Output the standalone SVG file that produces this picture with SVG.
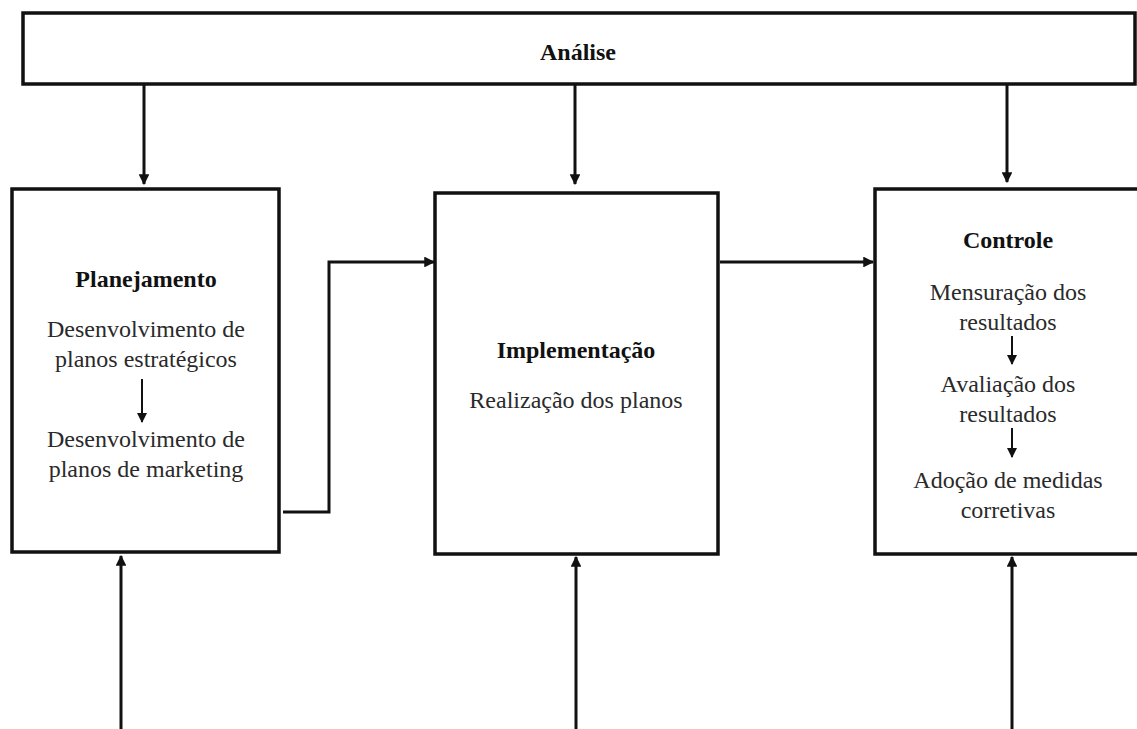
<svg xmlns="http://www.w3.org/2000/svg" width="1137" height="729" viewBox="0 0 1137 729">
  <style>
    .box { fill: #fff; stroke: #111; stroke-width: 3.5; }
    .wire { fill: none; stroke: #111; stroke-width: 3; }
    .thin { fill: none; stroke: #111; stroke-width: 2; }
    .head { fill: #111; }
    .t { font-family: "Liberation Serif", "Times New Roman", serif; font-size: 24px; fill: #2a2a2a; text-anchor: middle; }
    .b { font-family: "Liberation Serif", "Times New Roman", serif; font-size: 24px; font-weight: bold; fill: #111; text-anchor: middle; }
  </style>
  <defs>
    <marker id="arr" viewBox="0 0 10 10" refX="9" refY="5" markerWidth="3.6" markerHeight="3.6" orient="auto" markerUnits="strokeWidth">
      <path d="M0,0 L10,5 L0,10 Z" class="head"/>
    </marker>
    <marker id="arrSmall" viewBox="0 0 10 10" refX="9" refY="5" markerWidth="5" markerHeight="5" orient="auto" markerUnits="strokeWidth">
      <path d="M0,0 L10,5 L0,10 Z" class="head"/>
    </marker>
  </defs>

  <rect width="1137" height="729" fill="#fff"/>

  <g id="analise">
    <rect class="box" x="23" y="13" width="1112" height="71"/>
    <text class="b" x="578" y="60">Análise</text>
  </g>

  <g id="planejamento">
    <rect class="box" x="12" y="189" width="267" height="363"/>
    <text class="b" x="146" y="287">Planejamento</text>
    <text class="t" x="146" y="337">Desenvolvimento de</text>
    <text class="t" x="146" y="367">planos estratégicos</text>
    <line class="thin" x1="142" y1="379" x2="142" y2="422" marker-end="url(#arrSmall)"/>
    <text class="t" x="146" y="447">Desenvolvimento de</text>
    <text class="t" x="146" y="477">planos de marketing</text>
  </g>

  <g id="implementacao">
    <rect class="box" x="435" y="193" width="283" height="361"/>
    <text class="b" x="576" y="358">Implementação</text>
    <text class="t" x="576" y="408">Realização dos planos</text>
  </g>

  <g id="controle">
    <rect class="box" x="875" y="189" width="270" height="365"/>
    <text class="b" x="1008" y="248">Controle</text>
    <text class="t" x="1008" y="300">Mensuração dos</text>
    <text class="t" x="1008" y="330">resultados</text>
    <line class="thin" x1="1012" y1="336" x2="1012" y2="364" marker-end="url(#arrSmall)"/>
    <text class="t" x="1008" y="392">Avaliação dos</text>
    <text class="t" x="1008" y="422">resultados</text>
    <line class="thin" x1="1012" y1="428" x2="1012" y2="457" marker-end="url(#arrSmall)"/>
    <text class="t" x="1008" y="488">Adoção de medidas</text>
    <text class="t" x="1008" y="518">corretivas</text>
  </g>

  <g id="connectors">
    <!-- analysis feeds each stage -->
    <line class="wire" x1="144" y1="85" x2="144" y2="184" marker-end="url(#arr)"/>
    <line class="wire" x1="575" y1="85" x2="575" y2="184" marker-end="url(#arr)"/>
    <line class="wire" x1="1007" y1="85" x2="1007" y2="182" marker-end="url(#arr)"/>
    <!-- stage to stage -->
    <polyline class="wire" points="283,512 329,512 329,262 434,262" marker-end="url(#arr)"/>
    <line class="wire" x1="720" y1="262" x2="873" y2="262" marker-end="url(#arr)"/>
    <!-- inputs from below -->
    <line class="wire" x1="121" y1="729" x2="121" y2="556" marker-end="url(#arr)"/>
    <line class="wire" x1="576" y1="729" x2="576" y2="557" marker-end="url(#arr)"/>
    <line class="wire" x1="1012" y1="729" x2="1012" y2="557" marker-end="url(#arr)"/>
  </g>
</svg>
